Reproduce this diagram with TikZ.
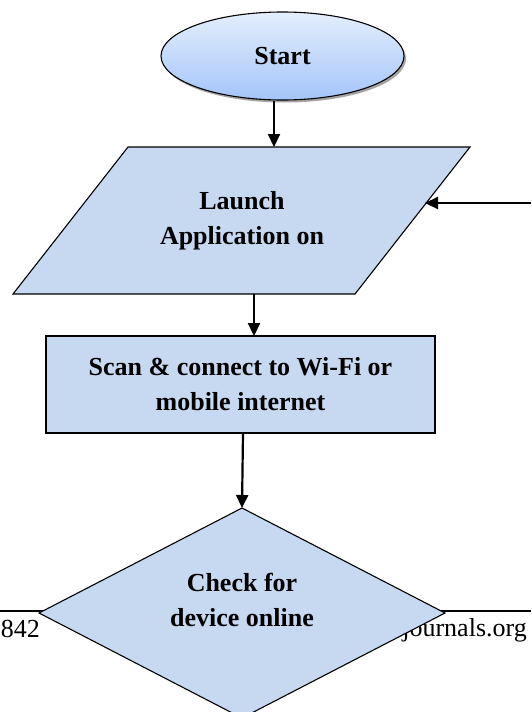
\documentclass[tikz,border=0pt]{standalone}
\usepackage{fontspec}
\setmainfont{Liberation Serif}
\usetikzlibrary{shapes.geometric,arrows.meta,shadows}
\definecolor{boxblue}{RGB}{198,217,240}
\definecolor{topblue}{RGB}{228,238,253}
\definecolor{botblue}{RGB}{164,197,249}
\tikzset{
  flowtext/.style={font=\fontsize{26}{35}\selectfont\bfseries, align=center, inner sep=0pt},
  shapeline/.style={draw=black, line width=1.1pt},
  arr/.style={line width=2.2pt, -{Triangle[length=13pt,width=12pt]}},
  foot/.style={font=\fontsize{26}{30}\selectfont, inner sep=0pt}
}
\begin{document}
\begin{tikzpicture}[x=1pt,y=-1pt]
\useasboundingbox (0,0) rectangle (531,712);
\clip (0,0) rectangle (531,712);
% page footer behind the diagram
\draw[line width=1.3pt] (0,611) -- (531,611);
\node[foot, anchor=base east] (pg) at (40,637) {3842};
\node[foot, anchor=base east] (web) at (527,636) {journals.org};
% start ellipse
\node[ellipse, shapeline, minimum width=243, minimum height=88, top color=topblue, bottom color=botblue,
      drop shadow={shadow xshift=2pt, shadow yshift=-2.5pt, fill=black!45, opacity=0.8}, flowtext]
  (start) at (282.5,56) {Start};
% parallelogram
\coordinate (p1) at (128,147);
\coordinate (p2) at (470,147);
\coordinate (p3) at (355,294);
\coordinate (p4) at (13,294);
\filldraw[fill=boxblue, shapeline, line join=miter] (p1) -- (p2) -- (p3) -- (p4) -- cycle;
\node[flowtext] (launch) at (242,221) {Launch\\Application on};
\coordinate (launchtop) at (274,147);
\coordinate (launchbot) at (254,294);
\coordinate (launchright) at (425,203);
\coordinate (feedback) at (531,203);
% rectangle
\node[rectangle, shapeline, fill=boxblue, minimum width=389, minimum height=97, flowtext] (scan) at (240.5,384.5) {Scan \& connect to Wi-Fi or\\mobile internet};
\coordinate (scantop) at (254,336);
\coordinate (scanbot) at (243,433);
% diamond
\coordinate (d1) at (242,508);
\coordinate (d2) at (445,613);
\coordinate (d3) at (242,718);
\coordinate (d4) at (39,613);
\filldraw[fill=boxblue, shapeline, line join=miter] (d1) -- (d2) -- (d3) -- (d4) -- cycle;
\node[flowtext] (check) at (242,600) {Check for\\device online};
% connectors
\draw[arr] (start.south -| launchtop) -- (launchtop);
\draw[arr] (launchbot) -- (scantop);
\draw[arr] (scanbot) -- (d1);
\draw[arr] (feedback) -- (launchright);
\end{tikzpicture}
\end{document}
